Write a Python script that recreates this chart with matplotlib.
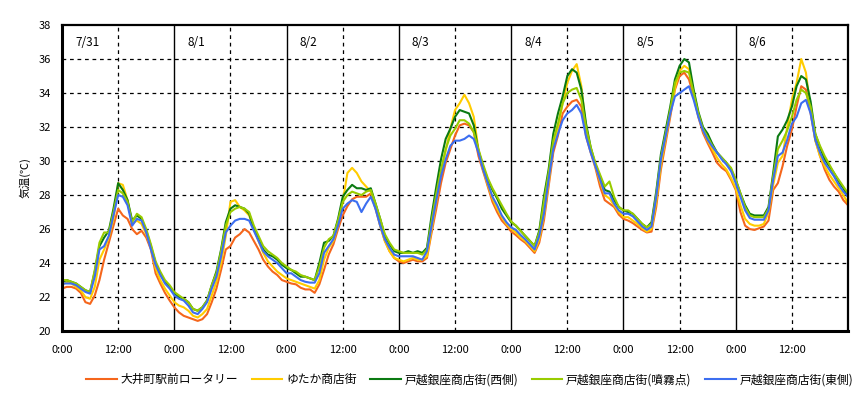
import numpy as np
import matplotlib
matplotlib.use("Agg")
import matplotlib.pyplot as plt

plt.rcParams["font.family"] = ["Noto Sans CJK JP", "DejaVu Sans"]

# hourly readings, 7/31 0:00 .. 8/7 0:00
oimachi = [
    22.5, 22.6, 22.6, 22.5, 22.25, 21.7, 21.6, 22.1, 23.0, 24.2, 25.2, 26.2, 27.2, 26.8, 26.6, 26.0, 25.7, 25.9, 25.5, 24.8, 23.4, 22.8, 22.25, 21.8,
    21.4, 21.1, 20.9, 20.8, 20.7, 20.6, 20.7, 21.0, 21.7, 22.5, 23.6, 24.8, 25.0, 25.5, 25.7, 26.0, 25.8, 25.3, 24.8, 24.2, 23.8, 23.5, 23.3, 23.0,
    22.9, 22.8, 22.75, 22.55, 22.45, 22.45, 22.25, 22.75, 23.6, 24.5, 25.1, 26.0, 26.8, 27.35, 27.75, 27.9, 27.9, 27.9, 28.1, 27.2, 26.2, 25.3, 24.7, 24.3,
    24.1, 24.0, 24.1, 24.2, 24.1, 24.1, 24.3, 25.8, 27.2, 28.7, 29.9, 30.7, 31.5, 32.1, 32.2, 32.1, 31.7, 30.3, 29.4, 28.5, 27.6, 27.0, 26.5, 26.2,
    25.85, 25.65, 25.4, 25.2, 24.9, 24.6, 25.2, 26.5, 28.5, 30.5, 31.5, 32.8, 33.2, 33.5, 33.6, 33.2, 31.45, 30.5, 29.6, 28.5, 27.7, 27.5, 27.3, 26.85,
    26.6, 26.5, 26.35, 26.15, 25.95, 25.8, 25.85, 27.3, 29.5, 31.05, 32.6, 34.2, 35.0, 35.2, 34.8, 33.8, 32.6, 31.65, 31.05, 30.5, 29.9, 29.6, 29.4, 28.9,
    28.3, 27.0, 26.2, 26.0, 25.95, 26.05, 26.15, 26.5, 28.3, 28.7, 29.7, 30.9, 31.85, 33.2, 34.4, 34.2, 32.8, 31.25, 30.3, 29.5, 28.9, 28.5, 28.2, 27.7,
    27.4,
]
yutaka = [
    22.7, 22.9, 22.8, 22.6, 22.4, 22.0, 21.9, 22.6, 24.2, 24.8, 25.5, 26.6, 28.7, 28.6, 27.7, 26.3, 26.5, 26.3, 25.7, 24.9, 23.7, 23.0, 22.5, 22.1,
    21.7, 21.5, 21.4, 21.2, 20.9, 20.8, 21.0, 21.3, 22.1, 22.9, 24.0, 25.6, 27.6, 27.7, 27.3, 27.1, 26.8, 26.0, 25.3, 24.6, 24.1, 23.8, 23.5, 23.3,
    23.1, 23.0, 22.9, 22.8, 22.7, 22.6, 22.5, 23.0, 24.2, 24.9, 25.3, 26.2, 27.6, 29.3, 29.6, 29.3, 28.8, 28.5, 28.2, 27.4, 26.2, 25.3, 24.7, 24.3,
    24.2, 24.1, 24.2, 24.3, 24.2, 24.2, 24.4, 26.0, 27.6, 29.3, 30.6, 31.9, 33.0, 33.4, 33.9, 33.4, 32.6, 30.7, 29.5, 28.6, 27.8, 27.2, 26.7, 26.3,
    26.0, 25.8, 25.5, 25.3, 25.0, 24.7, 25.4, 26.8, 28.7, 30.9, 32.0, 33.4, 34.6, 35.3, 35.7, 34.4, 31.9, 30.6, 29.7, 28.8, 28.0, 27.8, 27.4, 27.0,
    26.7, 26.7, 26.5, 26.3, 26.05, 25.85, 26.0, 27.6, 29.8, 31.3, 32.8, 34.3, 35.3, 35.6, 35.4, 34.0, 32.7, 31.8, 31.2, 30.7, 30.2, 29.8, 29.5, 29.0,
    28.4, 27.4, 26.6, 26.3, 26.2, 26.2, 26.3, 27.0, 28.6, 29.9, 30.3, 32.0, 33.6, 34.6, 36.0, 35.2, 33.0, 31.2, 30.3, 29.7, 29.2, 28.8, 28.4, 28.0,
    27.5,
]
togoshi_west = [
    22.9, 23.0, 22.9, 22.8, 22.6, 22.4, 22.3, 23.5, 25.0, 25.5, 25.9, 27.2, 28.7, 28.3, 27.7, 26.5, 26.8, 26.6, 25.9, 25.0, 24.0, 23.4, 22.9, 22.6,
    22.2, 22.0, 21.9, 21.7, 21.3, 21.2, 21.4, 21.8, 22.7, 23.5, 24.8, 26.4, 27.2, 27.4, 27.3, 27.2, 26.9, 26.0, 25.4, 24.8, 24.5, 24.4, 24.2, 23.9,
    23.7, 23.6, 23.4, 23.2, 23.2, 23.1, 23.0, 24.0, 25.2, 25.3, 25.6, 26.6, 27.9, 28.3, 28.6, 28.4, 28.4, 28.3, 28.4, 27.5, 26.6, 25.6, 25.1, 24.7,
    24.6, 24.6, 24.7, 24.6, 24.7, 24.6, 24.9, 26.8, 28.5, 30.1, 31.3, 31.9, 32.6, 33.0, 32.9, 32.8, 32.1, 30.6, 29.7, 28.9, 28.3, 27.8, 27.2, 26.8,
    26.4, 26.2, 25.9, 25.6, 25.3, 25.0, 25.9, 27.9, 29.5, 31.6, 32.8, 33.8, 35.0, 35.4, 35.2, 34.2, 32.2, 30.8, 29.8, 29.1, 28.3, 28.2, 27.7, 27.3,
    27.1, 27.0, 26.9, 26.6, 26.3, 26.1, 26.4, 28.2, 30.4, 31.8, 33.2, 34.8, 35.6, 36.0, 35.8, 34.2, 32.9, 32.0, 31.6, 31.0, 30.5, 30.2, 29.9, 29.5,
    28.9, 28.1, 27.4, 26.9, 26.8, 26.8, 26.8, 27.3, 29.3, 31.45, 31.85, 32.4, 33.2, 34.4, 35.0, 34.8, 33.5, 31.6, 30.8, 30.1, 29.7, 29.3, 28.8, 28.4,
    27.9,
]
togoshi_mist = [
    23.0, 23.0, 22.9, 22.8, 22.6, 22.4, 22.3, 23.6, 25.2, 25.8, 25.8, 27.0, 28.3, 28.1, 27.6, 26.4, 26.9, 26.7, 26.0, 25.1, 24.1, 23.5, 23.0, 22.7,
    22.3, 22.1, 21.9, 21.7, 21.3, 21.2, 21.4, 21.8, 22.7, 23.4, 24.7, 26.2, 27.0, 27.2, 27.3, 27.2, 27.0, 26.2, 25.6, 25.0, 24.7, 24.5, 24.3, 24.0,
    23.8, 23.6, 23.5, 23.3, 23.2, 23.1, 23.0, 23.8, 24.9, 25.4, 25.6, 26.5, 27.6, 28.0, 28.2, 28.1, 28.0, 28.2, 28.3, 27.5, 26.6, 25.7, 25.2, 24.8,
    24.7, 24.6, 24.6, 24.6, 24.6, 24.5, 24.8, 26.5, 28.1, 29.5, 30.7, 31.5, 31.9, 32.4, 32.4, 32.2, 31.7, 30.7, 29.8, 29.0, 28.4, 27.9, 27.4, 26.9,
    26.45, 26.2, 25.9, 25.6, 25.3, 25.0, 25.8, 27.6, 29.3, 31.2, 32.2, 33.4, 34.0, 34.2, 34.3, 33.6, 32.0, 30.8, 29.9, 29.2, 28.5, 28.8, 27.9, 27.3,
    27.1, 27.1, 26.9, 26.6, 26.3, 26.1, 26.3, 28.0, 30.2, 31.6, 33.0, 34.6, 35.2, 35.3, 35.2, 34.0, 32.8, 31.9, 31.4, 30.9, 30.5, 30.2, 29.9, 29.6,
    28.9, 28.1, 27.3, 26.8, 26.7, 26.7, 26.7, 27.2, 29.1, 30.7, 31.2, 31.8, 32.6, 33.6, 34.2, 34.0, 33.2, 31.6, 30.9, 30.3, 29.8, 29.3, 28.9, 28.5,
    28.1,
]
togoshi_east = [
    22.8, 22.8, 22.8, 22.7, 22.5, 22.3, 22.2, 23.2, 24.8, 25.0, 25.6, 26.8, 28.0, 27.9, 27.4, 26.2, 26.6, 26.5, 25.8, 24.8, 23.9, 23.3, 22.8, 22.5,
    22.1, 21.9, 21.8, 21.5, 21.1, 21.0, 21.3, 21.7, 22.5, 23.2, 24.4, 25.8, 26.2, 26.5, 26.6, 26.6, 26.5, 25.9, 25.3, 24.7, 24.4, 24.2, 24.0, 23.7,
    23.4, 23.4, 23.2, 23.0, 22.9, 22.85, 22.85, 23.4, 24.6, 25.0, 25.4, 26.2, 27.2, 27.5, 27.7, 27.6, 27.0, 27.5, 27.9, 27.2, 26.2, 25.4, 24.9, 24.5,
    24.4, 24.4, 24.4, 24.4, 24.3, 24.2, 24.7, 26.2, 27.7, 29.1, 30.1, 30.9, 31.2, 31.2, 31.3, 31.5, 31.3, 30.5, 29.5, 28.7, 27.9, 27.4, 26.8, 26.4,
    26.1, 25.95, 25.65, 25.4, 25.1, 24.8, 25.6, 26.9, 28.9, 30.7, 31.6, 32.4, 32.8, 33.0, 33.3, 32.8, 31.45, 30.5, 29.7, 28.9, 28.1, 28.1, 27.5, 27.1,
    26.9, 26.9, 26.75, 26.45, 26.15, 25.95, 26.15, 27.9, 30.1, 31.45, 32.8, 33.8, 34.0, 34.2, 34.4, 33.6, 32.6, 31.8, 31.25, 30.85, 30.5, 30.1, 29.8, 29.4,
    28.7, 27.9, 27.1, 26.65, 26.55, 26.55, 26.55, 27.1, 28.9, 30.3, 30.5, 31.25, 32.2, 32.6, 33.4, 33.6, 32.8, 31.25, 30.5, 29.9, 29.5, 29.1, 28.6, 28.2,
    27.9,
]

series = [
    ("大井町駅前ロータリー", oimachi, "#F5661C"),
    ("ゆたか商店街", yutaka, "#FFCC00"),
    ("戸越銀座商店街(西側)", togoshi_west, "#0B7A12"),
    ("戸越銀座商店街(噴霧点)", togoshi_mist, "#99CC00"),
    ("戸越銀座商店街(東側)", togoshi_east, "#3C6EF0"),
]
day_labels = ["7/31", "8/1", "8/2", "8/3", "8/4", "8/5", "8/6"]
tick_labels = ["0:00", "12:00"] * 7

fig = plt.figure(figsize=(8.65, 3.97), dpi=100)
ax = fig.add_axes([0.0717, 0.166, 0.9087, 0.771])

for name, vals, color in series:
    ax.plot(np.arange(len(vals)), vals, color=color, lw=1.5, label=name)

ax.set_xlim(0, 168)
ax.set_ylim(20, 38)
ax.set_yticks(np.arange(20, 39, 2))
ax.set_xticks(np.arange(0, 168, 12))
ax.set_xticklabels(tick_labels)
ax.tick_params(length=0, labelsize=8)
ax.tick_params(axis="x", pad=10)
ax.tick_params(axis="y", pad=8)

# grid: solid at midnight, dashed at noon and every 2 degrees
for y in range(22, 38, 2):
    ax.axhline(y, color="black", lw=0.9, ls=(0, (3, 3)), zorder=0)
for d in range(7):
    if d > 0:
        ax.axvline(24 * d, color="black", lw=1.0, zorder=0)
    ax.axvline(24 * d + 12, color="black", lw=0.9, ls=(0, (3, 3)), zorder=0)
    ax.text(24 * d + 2.8, 37.0, day_labels[d], fontsize=8.5, va="center", ha="left")

for side in ["left", "bottom"]:
    ax.spines[side].set_linewidth(2.2)
for side in ["top", "right"]:
    ax.spines[side].set_linewidth(1.6)

ax.set_ylabel("気温(℃)", fontsize=8, labelpad=6)

fig.legend(loc="lower center", bbox_to_anchor=(0.543, 0.0), ncol=5, frameon=False,
           fontsize=8.5, handlelength=2.6, handletextpad=0.3, columnspacing=1.15)

fig.savefig("out.png", dpi=100)
